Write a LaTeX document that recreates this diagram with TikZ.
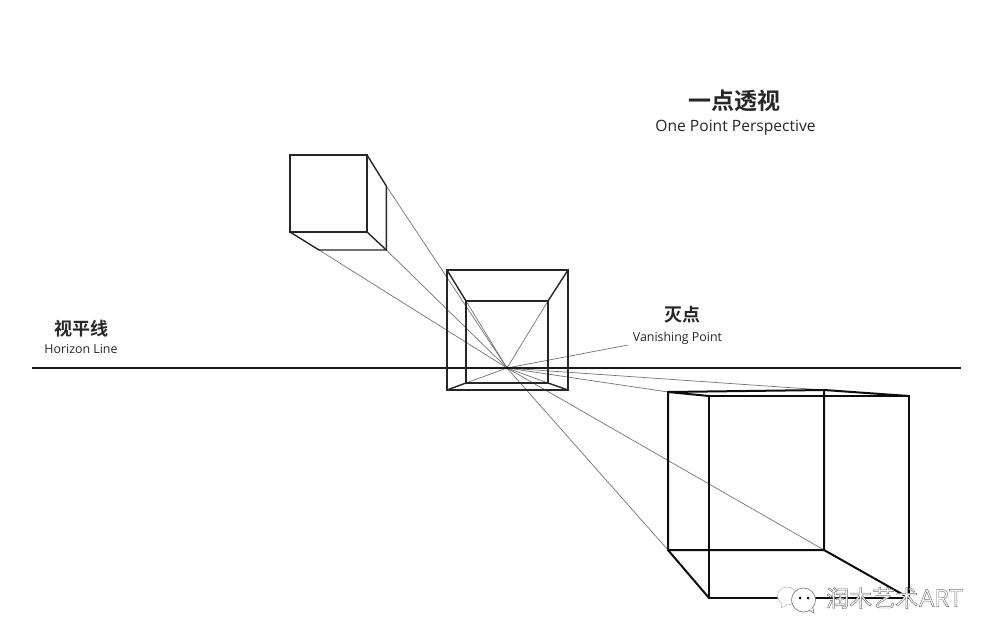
\documentclass[tikz,border=0pt]{standalone}
\usepackage{fontspec}
\setmainfont{Open Sans}
\newfontfamily\cjkfont{Noto Sans CJK SC}[BoldFont={Noto Sans CJK SC Bold}]
\usetikzlibrary{calc}
\tikzset{
  cubeline/.style={line width=1.4pt, color=black!85, line join=miter},
  heavyline/.style={line width=2pt, color=black!95, line join=miter},
  rayline/.style={line width=0.7pt, color=black!55},
  title/.style={inner sep=0pt, font=\cjkfont\bfseries\fontsize{18}{18}\selectfont, text=black!85},
  subtitle/.style={inner sep=0pt, text=black!85, font=\fontsize{12.4}{14}\selectfont}
}
\newcommand{\outlined}[1]{\special{pdf:code q 2 Tr 0.45 w 0.45 G 1 g}#1\special{pdf:code 0 Tr Q}}

\begin{document}
\begin{tikzpicture}[x=1pt,y=-1pt]
    \useasboundingbox (0,0) rectangle (995,642);
    \coordinate (V) at (507,368);

    % upper left cube
    \coordinate (Aa) at (290,155);
    \coordinate (Ab) at (367,155);
    \coordinate (Ac) at (367,232);
    \coordinate (Ad) at (290,232);
    \coordinate (Ae) at (386.3,186);
    \coordinate (Af) at (386.3,250);
    \coordinate (Ag) at (319,250);

    % middle cube
    \coordinate (Ba) at (447,270);
    \coordinate (Bb) at (568,270);
    \coordinate (Bc) at (568,390);
    \coordinate (Bd) at (447,390);
    \coordinate (Be) at (466,301);
    \coordinate (Bf) at (548,301);
    \coordinate (Bg) at (548,383);
    \coordinate (Bh) at (466,383);

    % lower right cube
    \coordinate (Ca) at (668,392);
    \coordinate (Cb) at (824,390);
    \coordinate (Cc) at (824,550);
    \coordinate (Cd) at (668,550);
    \coordinate (Ce) at (709,396);
    \coordinate (Cf) at (909,396);
    \coordinate (Cg) at (909,598);
    \coordinate (Ch) at (709,598);

    \node [title, font=\cjkfont\bfseries\fontsize{23}{23}\selectfont] (T) at (734.5,100.5) {一点透视};
    \node [subtitle, font=\fontsize{15.6}{17}\selectfont] (Tb) at (735.5,128) {One Point Perspective};
    \node [title] (H) at (81,328.5) {视平线};
    \node [subtitle] (Hb) at (81,349) {Horizon Line};
    \node [title] (P) at (682.5,314.5) {灭点};
    \node [subtitle] (Pb) at (677.5,338) {Vanishing Point};
    \coordinate (Pl) at (628,345);

    \foreach \p in {Ae,Af,Ag,Be,Bf,Bg,Bh,Ca,Cb,Cc,Cd,Pl}
      \draw[rayline] (V) -- (\p);

    \draw[line width=1.3pt, color=black!90] (32,368) coordinate (Hl) -- (961,368) coordinate (Hr);
    \fill[black] (V) circle (1.7pt);

    \draw[cubeline] (Aa) -- (Ab) -- (Ac) -- (Ad) -- cycle;
    \draw[cubeline] (Ab) -- (Ae) -- (Af) -- (Ag) -- (Ad);
    \draw[cubeline] (Ac) -- (Af);

    \draw[cubeline] (Ba) -- (Bb) -- (Bc) -- (Bd) -- cycle;
    \draw[cubeline] (Be) -- (Bf) -- (Bg) -- (Bh) -- cycle;
    \draw[cubeline] (Ba) -- (Be);
    \draw[cubeline] (Bb) -- (Bf);
    \draw[cubeline] (Bc) -- (Bg);
    \draw[cubeline] (Bd) -- (Bh);

    \draw[heavyline] (Ca) -- (Cb) -- (Cc) -- (Cd) -- cycle;
    \draw[heavyline] (Ce) -- (Cf) -- (Cg) -- (Ch) -- cycle;
    \draw[heavyline] (Ca) -- (Ce);
    \draw[heavyline] (Cb) -- (Cf);
    \draw[heavyline] (Cc) -- (Cg);
    \draw[heavyline] (Cd) -- (Ch);

    % watermark
    \draw[black!25, fill=white, line width=0.6pt] (787,596) ellipse (9.5 and 9);
    \draw[black!25, fill=white, line width=0.6pt] (782,603) -- (781,608) -- (787,605);
    \draw[black!50, fill=white, line width=0.7pt] (803.5,600) ellipse (12 and 12);
    \draw[black!50, fill=white, line width=0.7pt] (809,610) -- (814,613) -- (813,608);
    \fill[black] (800,598) circle (1.5pt) (808,598) circle (1.5pt);
    \node [inner sep=0pt, anchor=west, font=\cjkfont\fontsize{23}{24}\selectfont] (W) at (826,598) {\outlined{润木艺术}};
    \node [inner sep=0pt, anchor=west, font=\fontsize{24}{24}\selectfont] (Wb) at (919,598) {\outlined{ART}};
\end{tikzpicture}
\end{document}
